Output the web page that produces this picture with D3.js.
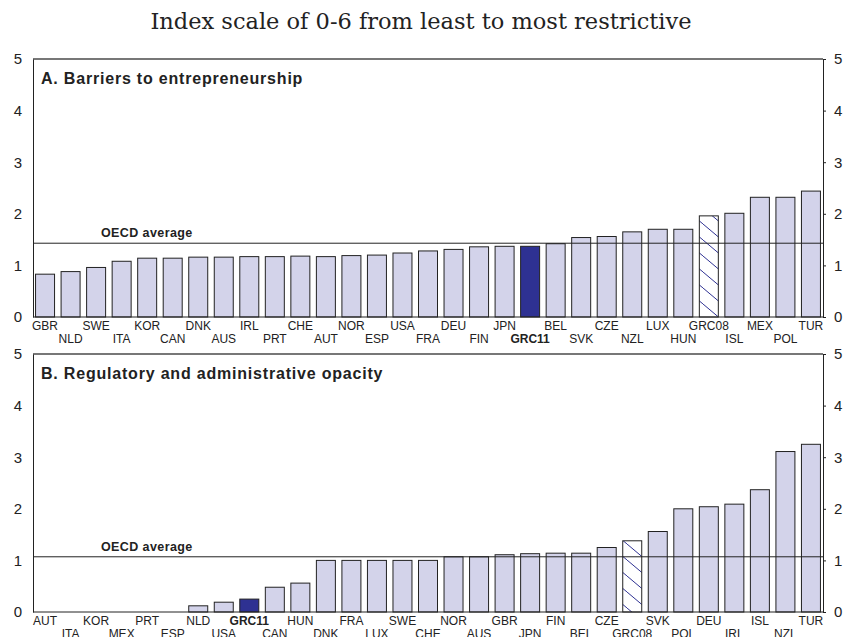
<!DOCTYPE html>
<html>
<head>
<meta charset="utf-8">
<script src="https://cdn.jsdelivr.net/npm/d3@7"></script>
<style>
  body { margin: 0; background: #fff; }
  svg text { font-family: "Liberation Sans", Arial, sans-serif; fill: #222; }
</style>
</head>
<body>
<div class="wrapper"></div>
<script>
// chart data
var title = "Index scale of 0-6 from least to most restrictive";

var countriesA = ["GBR","NLD","SWE","ITA","KOR","CAN","DNK","AUS","IRL","PRT","CHE","AUT","NOR","ESP","USA","FRA",
                  "DEU","FIN","JPN","GRC11","BEL","SVK","CZE","NZL","LUX","HUN","GRC08","ISL","MEX","POL","TUR"];
var valuesA = [0.83,0.88,0.96,1.08,1.14,1.14,1.16,1.16,1.17,1.17,1.18,1.17,1.19,1.20,1.24,1.28,
               1.31,1.36,1.37,1.37,1.42,1.54,1.56,1.65,1.70,1.70,1.96,2.01,2.32,2.32,2.44];
var averageA = 1.43;

var countriesB = ["AUT","ITA","KOR","MEX","PRT","ESP","NLD","USA","GRC11","CAN","HUN","DNK","FRA","LUX","SWE","CHE",
                  "NOR","AUS","GBR","JPN","FIN","BEL","CZE","GRC08","SVK","POL","DEU","IRL","ISL","NZL","TUR"];
var valuesB = [0,0,0,0,0,0,0.12,0.19,0.25,0.48,0.56,1.0,1.0,1.0,1.0,1.0,
               1.07,1.07,1.11,1.13,1.14,1.14,1.25,1.38,1.56,2.0,2.04,2.09,2.37,3.11,3.25];
var averageB = 1.07;

var yTicks = [0,1,2,3,4,5];

var width = 845, height = 637;
var left = 33, right = 823;

var svg = d3.select(".wrapper")
  .append("svg")
    .attr("width", width)
    .attr("height", height);

// hatch pattern for GRC08
var defs = svg.append("defs");
defs.append("pattern")
    .attr("id", "hatch")
    .attr("patternUnits", "userSpaceOnUse")
    .attr("width", 19)
    .attr("height", 16)
  .append("path")
    .attr("d", "M0,0 L19,16")
    .attr("stroke", "#2e3192")
    .attr("stroke-width", 1);

svg.append("text")
    .attr("x", 421)
    .attr("y", 29)
    .attr("text-anchor", "middle")
    .style("font-family", "'DejaVu Serif', serif")
    .style("font-size", "22.5px")
    .text(title);

drawPanel(59, 317, "A. Barriers to entrepreneurship", countriesA, valuesA, averageA);
drawPanel(354, 612, "B. Regulatory and administrative opacity", countriesB, valuesB, averageB);

function drawPanel(top, bottom, label, countries, values, avg) {
  var data = countries.map(function(c, i) { return {name: c, value: values[i]}; });

  var x = d3.scaleBand()
      .domain(countries)
      .range([left, right])
      .paddingInner(0.256)
      .paddingOuter(0.1);

  var y = d3.scaleLinear()
      .domain([0, 5])
      .range([bottom, top]);

  var g = svg.append("g");

  // top border
  g.append("line")
      .attr("x1", left).attr("x2", right)
      .attr("y1", top).attr("y2", top)
      .attr("stroke", "#777")
      .attr("stroke-width", 2);

  g.selectAll("rect.bar")
    .data(data)
    .enter().append("rect")
      .attr("class", "bar")
      .attr("x", function(d) { return x(d.name); })
      .attr("width", x.bandwidth())
      .attr("y", function(d) { return y(d.value); })
      .attr("height", function(d) { return y(0) - y(d.value); })
      .attr("fill", function(d) {
        if (d.name == "GRC11") return "#2e3192";
        if (d.name == "GRC08") return "url(#hatch)";
        return "#d3d3ea";
      })
      .attr("stroke", "#222")
      .attr("stroke-width", 1)
      .style("display", function(d) { return d.value > 0 ? null : "none"; });

  // OECD average line
  g.append("line")
      .attr("x1", left).attr("x2", right)
      .attr("y1", y(avg)).attr("y2", y(avg))
      .attr("stroke", "#222")
      .attr("stroke-width", 1);

  g.append("text")
      .attr("x", 101)
      .attr("y", y(avg) - 6)
      .style("font-size", "12.5px")
      .style("letter-spacing", "0.4px")
      .style("font-weight", "bold")
      .text("OECD average");

  g.append("text")
      .attr("x", 41)
      .attr("y", top + 25)
      .style("font-size", "16px")
      .style("letter-spacing", "0.8px")
      .style("font-weight", "bold")
      .text(label);

  // baseline
  g.append("line")
      .attr("x1", left).attr("x2", right)
      .attr("y1", y(0)).attr("y2", y(0))
      .attr("stroke", "#222")
      .attr("stroke-width", 1);

  // y axes
  var yl = g.append("g")
      .attr("transform", "translate(" + left + ",0)")
      .call(d3.axisLeft(y).tickValues(yTicks).tickFormat(d3.format("d")).tickSize(0).tickPadding(11));
  var yr = g.append("g")
      .attr("transform", "translate(" + right + ",0)")
      .call(d3.axisRight(y).tickValues(yTicks).tickFormat(d3.format("d")).tickSize(3).tickPadding(8));
  [yl, yr].forEach(function(a) {
    a.select(".domain").attr("stroke", "#222");
    a.selectAll(".tick line").attr("stroke", "#222");
    a.selectAll("text").style("font-size", "15px").attr("fill", "#222")
      .style("font-family", "'Liberation Sans', Arial, sans-serif");
  });

  // country labels in two rows
  g.selectAll("text.country")
    .data(data)
    .enter().append("text")
      .attr("class", "country")
      .attr("x", function(d) { return x(d.name) + x.bandwidth() / 2; })
      .attr("y", function(d, i) { return bottom + (i % 2 == 0 ? 13 : 26); })
      .attr("text-anchor", "middle")
      .style("font-size", "12px")
      .style("font-weight", function(d) { return d.name == "GRC11" ? "bold" : "normal"; })
      .text(function(d) { return d.name; });
}
</script>
</body>
</html>
